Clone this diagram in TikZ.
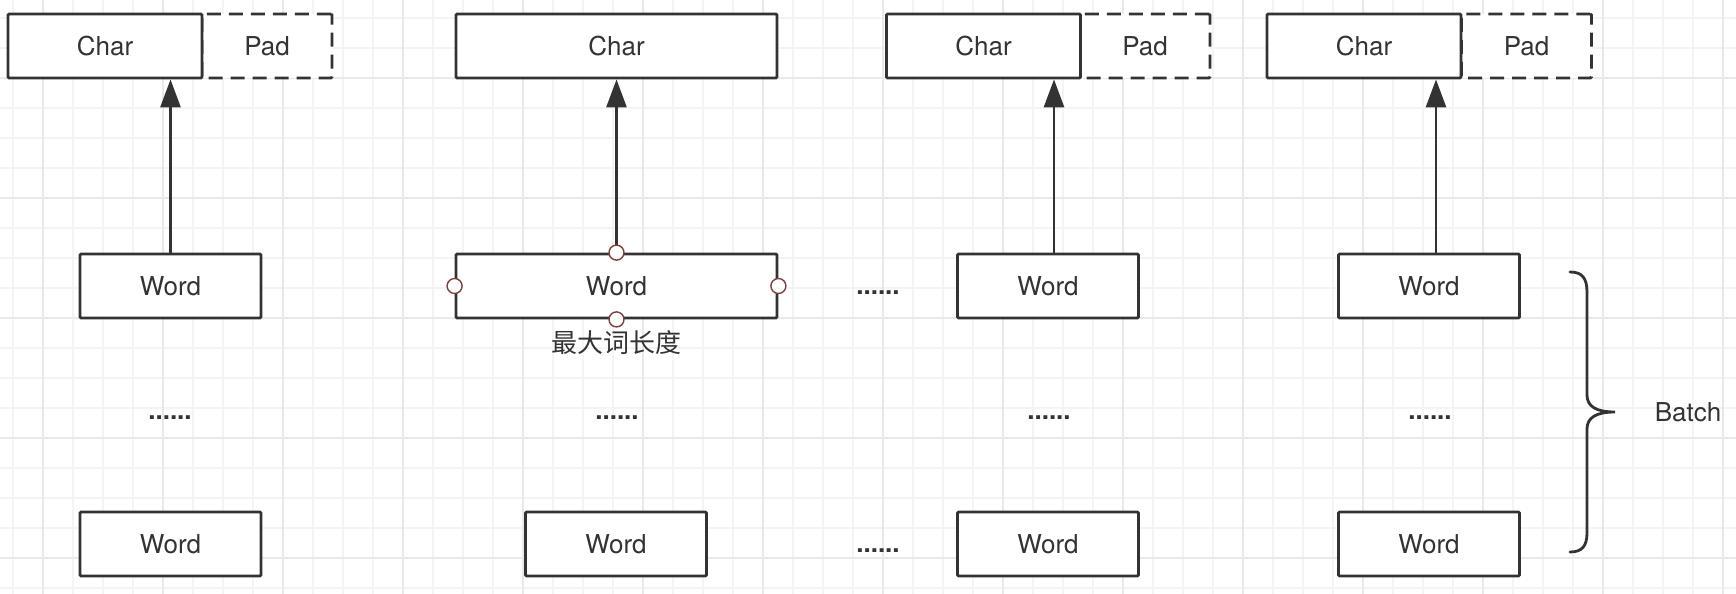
\documentclass[tikz,border=0pt]{standalone}
\usepackage{fontspec}
\setmainfont{TeX Gyre Heros}
\newfontfamily\cjk{Noto Sans CJK SC}
\usetikzlibrary{arrows.meta}
\definecolor{ink}{HTML}{333333}
\definecolor{gridlight}{HTML}{F4F4F4}
\definecolor{griddark}{HTML}{E9E9E9}
\definecolor{portred}{HTML}{7F3F3F}

\begin{document}
\begin{tikzpicture}[x=0.5pt,y=-0.5pt,
  every node/.style={font=\fontsize{13pt}{15pt}\selectfont, text=ink},
  box/.style={draw=ink, line width=1.4pt, fill=white, minimum height=32pt, inner sep=0pt, rounded corners=0.6pt},
  charbox/.style={box, minimum width=97pt},
  padbox/.style={box, minimum width=65pt, dash pattern=on 7pt off 4pt},
  wordbox/.style={box, minimum width=90.5pt},
  longbox/.style={box, minimum width=160.5pt},
  up/.style={draw=ink, line width=1.4pt, -{Triangle[length=14pt,width=10pt]}},
  port/.style={circle, draw=portred, fill=white, line width=0.7pt, minimum size=7.5pt, inner sep=0pt},
  dots/.style={inner sep=0pt, font=\fontsize{13pt}{15pt}\selectfont\bfseries}
]
%%Location
\useasboundingbox (0,0) rectangle (1736,594);
\fill[white] (0,0) rectangle (1736,594);

%%Grid
\foreach \gx in {13,43,...,1736} \draw[gridlight, line width=1pt] (\gx,0) -- (\gx,594);
\foreach \gy in {18,48,...,594} \draw[gridlight, line width=1pt] (0,\gy) -- (1736,\gy);
\foreach \gx in {43,163,...,1736} \draw[griddark, line width=1pt] (\gx,0) -- (\gx,594);
\foreach \gy in {78,198,...,594} \draw[griddark, line width=1pt] (0,\gy) -- (1736,\gy);

%%First column
\node[padbox] (pad1) at (267,46) {Pad};
\node[charbox] (char1) at (105,46) {Char};
\node[wordbox] (word1) at (170.5,286) {Word};
\node[dots] (dots1) at (170,418) {......};
\node[wordbox] (wordb1) at (170.5,544) {Word};
\draw[up] (word1.north) -- (word1.north |- char1.south);

%%Second column
\node[longbox] (char2) at (616.5,46) {Char};
\node[longbox] (word2) at (616.5,286) {Word};
\node (maxlen) at (616,343) {\cjk 最大词长度};
\node[dots] (dots2) at (617,418) {......};
\node[wordbox] (wordb2) at (616,544) {Word};
\draw[up] (word2.north) -- (char2.south);
\node[port] (portn) at (word2.north) {};
\node[port] (ports) at (word2.south) {};
\node[port] (portw) at (word2.west) {};
\node[port] (porte) at (word2.east) {};

%%Between
\node[dots] (gap1) at (878,293) {......};
\node[dots] (gap2) at (878,551) {......};

%%Third column
\node[padbox] (pad3) at (1145,46) {Pad};
\node[charbox] (char3) at (983.5,46) {Char};
\node[wordbox] (word3) at (1048,286) {Word};
\node[dots] (dots3) at (1049,418) {......};
\node[wordbox] (wordb3) at (1048,544) {Word};
\draw[up] ([xshift=3pt]word3.north) -- ([xshift=3pt]word3.north |- char3.south);

%%Fourth column
\node[padbox] (pad4) at (1526.5,46) {Pad};
\node[charbox] (char4) at (1364,46) {Char};
\node[wordbox] (word4) at (1429,286) {Word};
\node[dots] (dots4) at (1430,418) {......};
\node[wordbox] (wordb4) at (1429,544) {Word};
\draw[up] ([xshift=3.5pt]word4.north) -- ([xshift=3.5pt]word4.north |- char4.south);

%%Brace
\draw[ink, line width=1.4pt, line cap=round] (1570,272) .. controls (1582,272) and (1587,278) .. (1587,292) -- (1587,395)
  .. controls (1587,407) and (1597,412) .. (1615,412)
  .. controls (1597,412) and (1587,417) .. (1587,429) -- (1587,533)
  .. controls (1587,546) and (1582,552) .. (1570,552);
\node (batch) at (1688,412) {Batch};

\end{tikzpicture}
\end{document}
